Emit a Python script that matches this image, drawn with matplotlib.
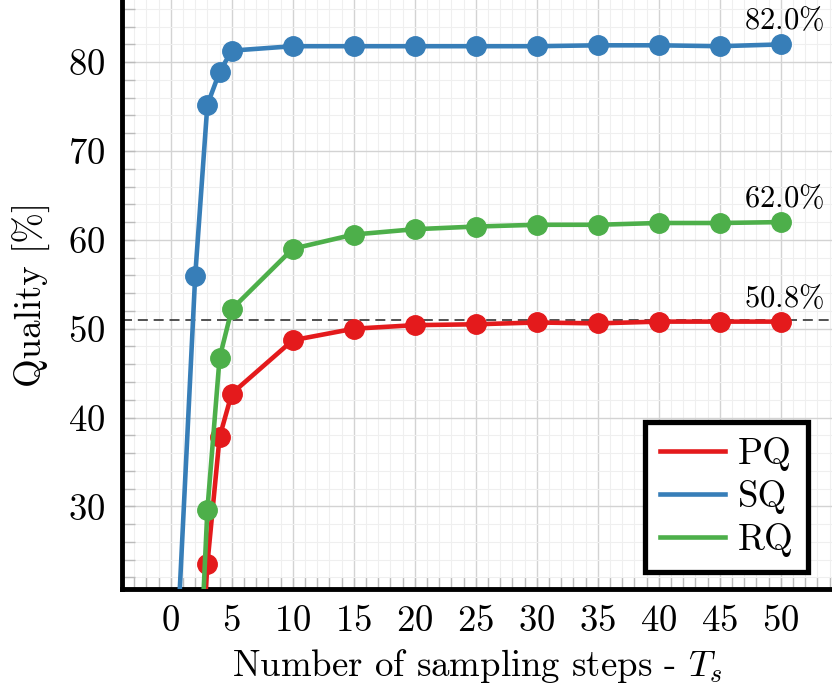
import matplotlib
matplotlib.use("Agg")
import matplotlib.pyplot as plt
from matplotlib.ticker import MultipleLocator

plt.rcParams['font.family'] = 'serif'
plt.rcParams['font.serif'] = ['cmr10']
plt.rcParams['mathtext.fontset'] = 'cm'
plt.rcParams['axes.formatter.use_mathtext'] = True
plt.rcParams['axes.unicode_minus'] = False

steps_sq = [0, 2, 3, 4, 5, 10, 15, 20, 25, 30, 35, 40, 45, 50]
sq = [0.0, 55.9, 75.2, 78.9, 81.3, 81.8, 81.8, 81.8, 81.8, 81.8, 81.9, 81.9, 81.8, 82.0]

steps_pq = [2, 3, 4, 5, 10, 15, 20, 25, 30, 35, 40, 45, 50]
pq = [0.0, 23.5, 37.8, 42.7, 48.7, 50.0, 50.4, 50.5, 50.7, 50.6, 50.8, 50.8, 50.8]

steps_rq = [2, 3, 4, 5, 10, 15, 20, 25, 30, 35, 40, 45, 50]
rq = [0.0, 29.6, 46.7, 52.2, 59.0, 60.6, 61.2, 61.5, 61.7, 61.7, 61.9, 61.9, 62.0]

ref_line = 51.0
labels = [r'$\mathrm{82.0\%}$', r'$\mathrm{62.0\%}$', r'$\mathrm{50.8\%}$']

red, blue, green = '#e41a1c', '#377eb8', '#4daf4a'

fig = plt.figure(figsize=(8.32, 6.96), dpi=100)
ax = fig.add_axes([0.1466, 0.1537, 0.8534, 0.8463])

ax.plot(steps_pq, pq, '-o', color=red, lw=3.3, ms=14, label='PQ', zorder=3)
ax.plot(steps_sq, sq, '-o', color=blue, lw=3.3, ms=14, label='SQ', zorder=3)
ax.plot(steps_rq, rq, '-o', color=green, lw=3.3, ms=14, label='RQ', zorder=3)
ax.axhline(ref_line, color='#333333', lw=1.2, ls=(0, (6, 3.5)), zorder=2)

for xs, ys, lab in [(steps_sq, sq, labels[0]), (steps_rq, rq, labels[1]), (steps_pq, pq, labels[2])]:
    ax.text(xs[-1] + 0.3, ys[-1] + 1.0, lab, fontsize=22, ha='center', va='bottom')

ax.set_xlim(-4, 54.2)
ax.set_ylim(20.7, 87.0)
ax.xaxis.set_major_locator(MultipleLocator(5))
ax.xaxis.set_minor_locator(MultipleLocator(1))
ax.yaxis.set_major_locator(MultipleLocator(10))
ax.yaxis.set_minor_locator(MultipleLocator(2))
ax.set_xticks(range(0, 51, 5))
ax.grid(which='major', color='#d3d3d3', lw=1.0)
ax.grid(which='minor', color='#efefef', lw=0.8)
ax.set_axisbelow(True)

for s in ['top', 'right']:
    ax.spines[s].set_visible(False)
for s in ['left', 'bottom']:
    ax.spines[s].set_linewidth(3.5)
    ax.spines[s].set_color('black')

ax.tick_params(which='both', direction='in', color='#bbbbbb', labelsize=26.5)
ax.tick_params(which='major', length=9, width=1)
ax.tick_params(which='minor', length=9, width=1)
ax.tick_params(axis='x', which='major', pad=11)
ax.tick_params(axis='y', which='major', pad=12)

ax.set_xlabel(r'Number of sampling steps - $T_s$', fontsize=26.5, labelpad=7)
ax.set_ylabel(r'Quality [%]', fontsize=26.5, labelpad=12)

leg = ax.legend(loc='lower right', bbox_to_anchor=(0.966, 0.029), borderaxespad=0,
                fontsize=26.5, fancybox=False, framealpha=1, edgecolor='black',
                handlelength=1.75, borderpad=0.4, labelspacing=0.25, handletextpad=0.35)
leg.get_frame().set_linewidth(3.8)
for h in leg.legend_handles:
    h.set_marker('')

fig.savefig('out.png', dpi=100)
